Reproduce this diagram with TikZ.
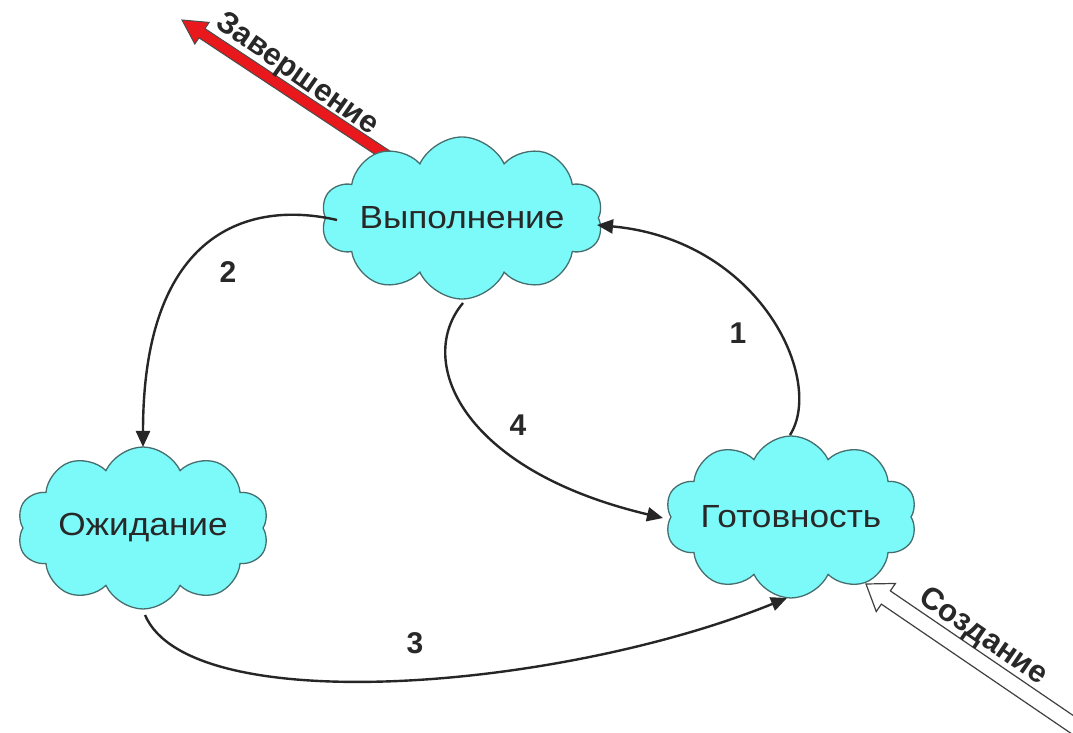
\documentclass[tikz,border=0pt]{standalone}
\usepackage{fontspec}
\setmainfont{Liberation Sans}
\newfontfamily\cloudfont[FakeStretch=1.1]{Liberation Sans}
\usetikzlibrary{shapes.symbols,arrows.meta,calc}
\definecolor{cloudfill}{RGB}{124,250,250}
\definecolor{cloudline}{RGB}{70,110,110}
\definecolor{endred}{RGB}{232,24,28}
\definecolor{txt}{RGB}{40,40,40}
\tikzset{
  state/.style={cloud, cloud puffs=10, cloud puff arc=130, cloud ignores aspect,
    draw=cloudline, line width=1.3pt,
    fill=cloudfill, minimum width=252pt, minimum height=162pt, inner sep=0pt,
    font=\cloudfont\fontsize{32}{34}\selectfont, text=txt},
  flow/.style={line width=2.4pt, draw=black!85, -{Triangle[length=16pt,width=14pt]}},
  num/.style={font=\fontsize{30}{32}\selectfont\bfseries, text=txt},
  biglabel/.style={font=\fontsize{31}{33}\selectfont\bfseries, text=txt},
}
\begin{document}
\begin{tikzpicture}[x=1pt,y=1pt]
\clip (0,0) rectangle (1073,733);
\fill[white] (0,0) rectangle (1073,733);

% coordinates for free ends
\coordinate (zend) at (182,713);
\coordinate (zstart) at (395,572);
\coordinate (sstart) at (1092,-5);
\coordinate (send) at (866,149);

% red termination arrow (drawn first, cloud covers tail)
\coordinate (zh) at ($(zend)!24pt!(zstart)$);
\filldraw[fill=endred, draw=black!70, line width=1pt, line join=miter]
  ($(zstart)!5.5pt!90:(zend)$) -- ($(zh)!5.5pt!90:(zend)$) -- ($(zh)!13pt!90:(zend)$) -- (zend)
  -- ($(zh)!13pt!-90:(zend)$) -- ($(zh)!5.5pt!-90:(zend)$) -- ($(zstart)!5.5pt!-90:(zend)$) -- cycle;

% states
\node[state] (vyp) at (462,515) {Выполнение};
\node[state] (ozh) at (143,205) {Ожидание};
\node[state] (gat) at (791,216) {Готовность};

% hollow creation arrow
\coordinate (sh) at ($(send)!24pt!(sstart)$);
\filldraw[fill=white, draw=black!75, line width=1.2pt, line join=miter]
  ($(sstart)!8pt!90:(send)$) -- ($(sh)!8pt!90:(send)$) -- ($(sh)!17pt!90:(send)$) -- (send)
  -- ($(sh)!17pt!-90:(send)$) -- ($(sh)!8pt!-90:(send)$) -- ($(sstart)!8pt!-90:(send)$) -- cycle;

% transitions
\draw[flow] ($(gat.center)+(-1,82)$) .. controls (825,353) and (760,493) .. ($(vyp.center)+(135,-7)$);
\draw[flow] ($(vyp.center)+(-125,-2)$) .. controls (250,533) and (143,503) .. ($(ozh.center)+(0,81)$);
\draw[flow] ($(ozh.center)+(2,-87)$) .. controls (190,13) and (560,43) .. ($(gat.center)+(-4,-81)$);
\draw[flow] ($(vyp.center)+(1,-85)$) .. controls (415,373) and (460,263) .. ($(gat.center)+(-128,-1)$);

% labels
\node[num] (l1) at (738,400) {1};
\node[num] (l2) at (228,461) {2};
\node[num] (l3) at (415,90) {3};
\node[num] (l4) at (518,308) {4};

\node[biglabel, rotate=-35] (zl) at (297,658) {Завершение};
\node[biglabel, rotate=-34.5] (sl) at (983,96) {Создание};
\end{tikzpicture}
\end{document}
